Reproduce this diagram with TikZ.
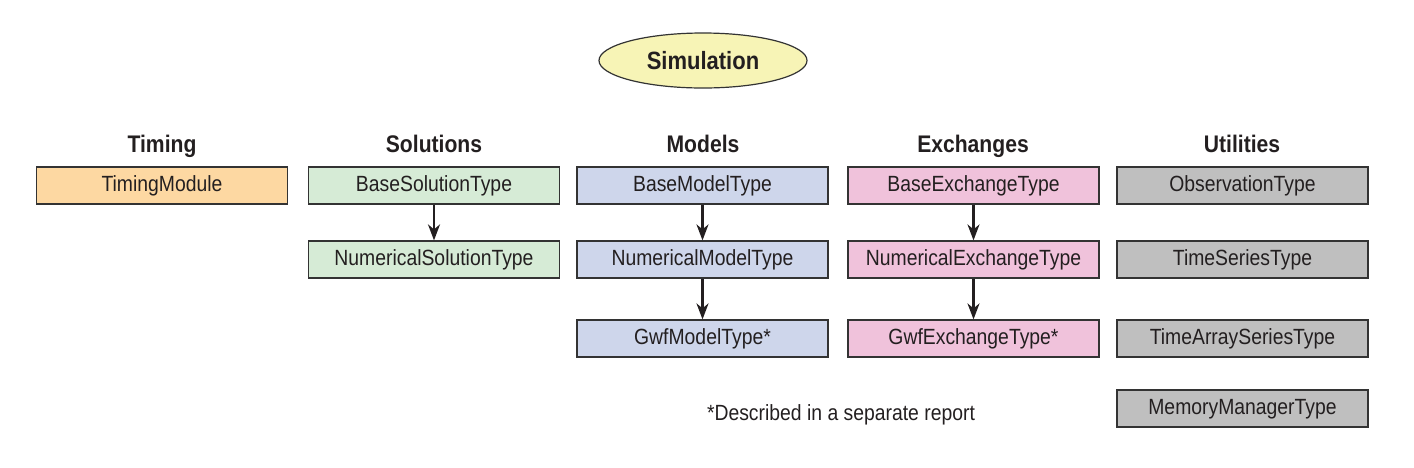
\documentclass[tikz,border=0pt]{standalone}
\usepackage{fontspec}
\setmainfont[FakeStretch=0.88]{Liberation Sans}
\usetikzlibrary{shapes.geometric,arrows.meta}
\definecolor{txt}{HTML}{231F20}
\definecolor{cTim}{HTML}{FDD8A2}
\definecolor{cSol}{HTML}{D6EBD6}
\definecolor{cMod}{HTML}{CED6EB}
\definecolor{cExc}{HTML}{F0C2DB}
\definecolor{cUti}{HTML}{BFBFBF}
\definecolor{cSim}{HTML}{F7F4B6}
\definecolor{edge}{HTML}{333333}
\tikzset{
  typebox/.style={draw=edge, line width=0.6pt, minimum width=125.5pt, minimum height=18.5pt, inner sep=0pt, text height=8pt, text depth=2.2pt, font=\fontsize{11}{13}\selectfont, text=txt},
  coltitle/.style={font=\fontsize{12}{14}\selectfont\bfseries, text=txt, inner sep=0pt, text height=8.6pt, text depth=0pt},
  inherit/.style={-{Stealth[length=8pt,width=6pt,inset=2.5pt]}, line width=1.1pt, draw=txt}
}
\begin{document}
\begin{tikzpicture}[x=0.5pt,y=-0.5pt]
\useasboundingbox (0,0) rectangle (1414,467);
\node[ellipse, draw=edge, line width=0.6pt, fill=cSim, minimum width=104pt, minimum height=27.5pt, inner sep=0pt, text height=8.6pt, text depth=0pt, font=\fontsize{12.5}{14}\selectfont\bfseries, text=txt] (sim) at (703,60.5) {Simulation};

\node[coltitle] (tTim) at (162,144) {Timing};
\node[coltitle] (tSol) at (434,144) {Solutions};
\node[coltitle] (tMod) at (703,144) {Models};
\node[coltitle] (tExc) at (973,144) {Exchanges};
\node[coltitle] (tUti) at (1242,144) {Utilities};

\node[typebox, fill=cTim] (timing) at (162,185.5) {TimingModule};

\node[typebox, fill=cSol] (bsol) at (434,185.5) {BaseSolutionType};
\node[typebox, fill=cSol] (nsol) at (434,259.5) {NumericalSolutionType};

\node[typebox, fill=cMod] (bmod) at (702.5,185.5) {BaseModelType};
\node[typebox, fill=cMod] (nmod) at (702.5,259.5) {NumericalModelType};
\node[typebox, fill=cMod] (gmod) at (702.5,338.5) {GwfModelType*};

\node[typebox, fill=cExc] (bexc) at (973.5,185.5) {BaseExchangeType};
\node[typebox, fill=cExc] (nexc) at (973.5,259.5) {NumericalExchangeType};
\node[typebox, fill=cExc] (gexc) at (973.5,338.5) {GwfExchangeType*};

\node[typebox, fill=cUti] (obs) at (1242.5,185.5) {ObservationType};
\node[typebox, fill=cUti] (ts) at (1242.5,259.5) {TimeSeriesType};
\node[typebox, fill=cUti] (tas) at (1242.5,338.5) {TimeArraySeriesType};
\node[typebox, fill=cUti] (mem) at (1242.5,408.5) {MemoryManagerType};

\node[font=\fontsize{11}{13}\selectfont, text=txt, inner sep=0pt, text height=8pt, text depth=2.2pt] (note) at (841,415) {*Described in a separate report};

\draw[inherit] (bsol) -- (nsol);
\draw[inherit] (bmod) -- (nmod);
\draw[inherit] (nmod) -- (gmod);
\draw[inherit] (bexc) -- (nexc);
\draw[inherit] (nexc) -- (gexc);
\end{tikzpicture}
\end{document}
